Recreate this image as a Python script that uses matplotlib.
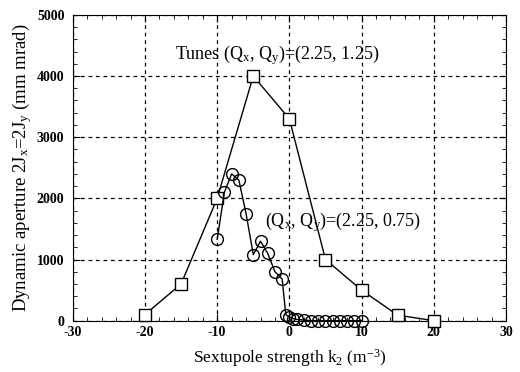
import matplotlib

matplotlib.use("Agg")
import matplotlib.pyplot as plt
from matplotlib.ticker import MultipleLocator

plt.rcParams.update({"font.family": ["Liberation Serif", "DejaVu Serif"],
                     "mathtext.fontset": "custom",
                     "mathtext.rm": "Liberation Serif",
                     "mathtext.it": "Liberation Serif",
                     "axes.unicode_minus": False})

# tunes (2.25, 1.25) - kareler
k2_sq = [-20, -15, -10, -5, 0, 5, 10, 15, 20]
da_sq = [100, 600, 2000, 4000, 3300, 1000, 500, 90, 0]

# tunes (2.25, 0.75) - halkalar
k2_ci = [-10, -9, -8, -7, -6, -5, -4, -3, -2, -1, -0.5, 0, 0.5, 1,
         2, 3, 4, 5, 6, 7, 8, 9, 10]
da_ci = [1330, 2100, 2400, 2300, 1750, 1080, 1300, 1100, 800, 680, 100, 60, 35, 20,
         10, 0, 0, 0, 0, 0, 0, 0, 0]

fig = plt.figure(figsize=(5.2, 3.72), dpi=100)
ax = fig.add_axes([0.140, 0.138, 0.833, 0.822])

ax.plot(k2_sq, da_sq, "-", color="black", lw=1.0, marker="s", ms=8.5,
        mfc="white", mec="black", mew=1.0, zorder=3, clip_on=False)
ax.plot(k2_ci, da_ci, "-", color="black", lw=1.0, marker="o", ms=8.5,
        mfc="none", mec="black", mew=1.0, zorder=3, clip_on=False)

ax.set_xlim(-30, 30)
ax.set_ylim(0, 5000)
ax.xaxis.set_major_locator(MultipleLocator(10))
ax.xaxis.set_minor_locator(MultipleLocator(2))
ax.yaxis.set_major_locator(MultipleLocator(1000))
ax.yaxis.set_minor_locator(MultipleLocator(200))
ax.tick_params(which="both", direction="in", top=True, right=True, labelsize=10)
ax.tick_params(which="major", length=5)
ax.tick_params(which="minor", length=3)
ax.tick_params(axis="y", pad=6)
for lab in ax.get_xticklabels() + ax.get_yticklabels():
    lab.set_fontweight("bold")
ax.grid(True, which="major", ls=(0, (3, 3)), color="black", lw=0.9)

ax.text(-15.8, 4350, r"Tunes (Q$_\mathregular{x}$, Q$_\mathregular{y}$)=(2.25, 1.25)",
        fontsize=13, va="center", ha="left")
ax.text(-3.4, 1620, r"(Q$_\mathregular{x}$, Q$_\mathregular{y}$)=(2.25, 0.75)",
        fontsize=13, va="center", ha="left")

ax.set_xlabel(r"Sextupole strength k$_\mathregular{2}$ (m$^\mathregular{-3}$)",
              fontsize=12.5, labelpad=6)
ax.set_ylabel(r"Dynamic aperture 2J$_\mathregular{x}$=2J$_\mathregular{y}$ (mm mrad)",
              fontsize=13.5, labelpad=2)

fig.savefig("out.png", dpi=100)
